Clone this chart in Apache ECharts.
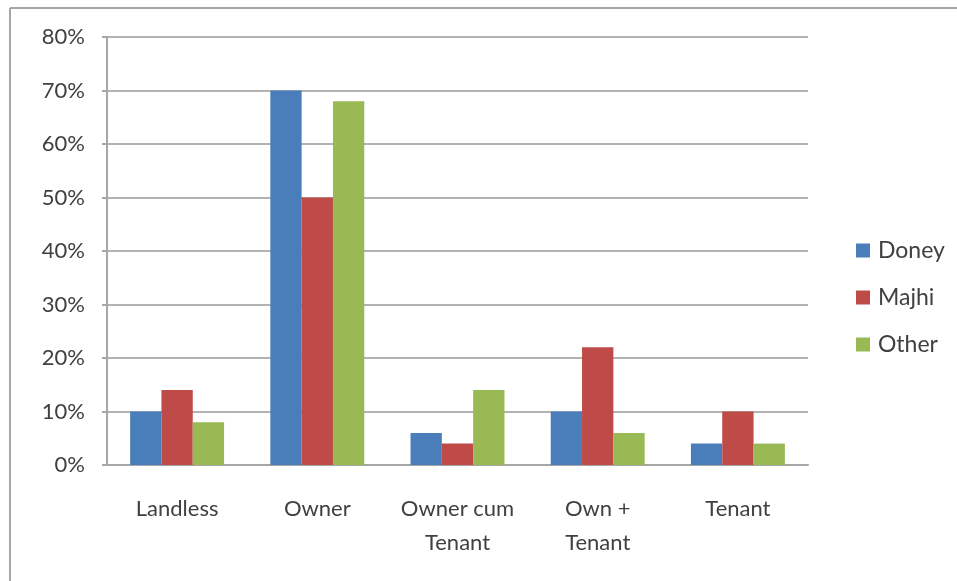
<!DOCTYPE html>
<html>
<head>
<meta charset="utf-8">
<script src="https://cdn.jsdelivr.net/npm/echarts@6/dist/echarts.min.js"></script>
<style>
  html, body { margin: 0; padding: 0; background: #fff; }
  #chart { width: 957px; height: 581px; }
</style>
</head>
<body>
<div id="chart"></div>
<script>
// Land ownership categories and the share of households in each group
const categories = ['Landless', 'Owner', 'Owner cum\nTenant', 'Own +\nTenant', 'Tenant'];
const doney = [10, 70, 6, 10, 4];
const majhi = [14, 50, 4, 22, 10];
const other = [8, 68, 14, 6, 4];
const yTicks = [0, 10, 20, 30, 40, 50, 60, 70, 80];

const colors = ['#4a7ebb', '#be4b48', '#98b954'];
const textColor = '#404040';
const fontFamily = 'Lato, "Open Sans", sans-serif';

const chart = echarts.init(document.getElementById('chart'), null, { renderer: 'canvas' });

function barSeries(name, data, color) {
  return {
    name: name,
    type: 'bar',
    data: data,
    barGap: '0%',
    barCategoryGap: '33%',
    itemStyle: { color: color },
    emphasis: { disabled: true }
  };
}

chart.setOption({
  animation: false,
  backgroundColor: '#ffffff',
  color: colors,
  graphic: [
    { type: 'line', shape: { x1: 10, y1: 8, x2: 957, y2: 8 }, style: { stroke: '#a6a6a6', lineWidth: 2 } },
    { type: 'line', shape: { x1: 10, y1: 8, x2: 10, y2: 581 }, style: { stroke: '#a6a6a6', lineWidth: 2 } }
  ],
  grid: { left: 107, right: 149, top: 37, bottom: 116 },
  legend: {
    orient: 'vertical',
    left: 851,
    top: 234,
    itemWidth: 14,
    itemHeight: 14,
    itemGap: 24,
    icon: 'rect',
    textStyle: { color: textColor, fontSize: 23, fontFamily: fontFamily, padding: [0, 0, 0, 3] },
    data: ['Doney', 'Majhi', 'Other']
  },
  xAxis: {
    type: 'category',
    data: categories,
    axisLine: { lineStyle: { color: '#a6a6a6', width: 2 } },
    axisTick: { show: false },
    axisLabel: {
      color: textColor,
      fontSize: 22,
      fontFamily: fontFamily,
      margin: 27,
      lineHeight: 34,
      interval: 0
    }
  },
  yAxis: {
    type: 'value',
    min: 0,
    max: 80,
    interval: 10,
    axisLine: { show: true, lineStyle: { color: '#a6a6a6', width: 2 } },
    axisTick: { show: true, length: 5, lineStyle: { color: '#a6a6a6', width: 2 } },
    splitLine: { lineStyle: { color: '#b3b3b3', width: 2 } },
    axisLabel: {
      color: textColor,
      fontSize: 22,
      fontFamily: fontFamily,
      margin: 22,
      formatter: function (v) { return yTicks.indexOf(v) >= 0 ? v + '%' : ''; }
    }
  },
  series: [
    barSeries('Doney', doney, colors[0]),
    barSeries('Majhi', majhi, colors[1]),
    barSeries('Other', other, colors[2])
  ]
});
</script>
</body>
</html>
